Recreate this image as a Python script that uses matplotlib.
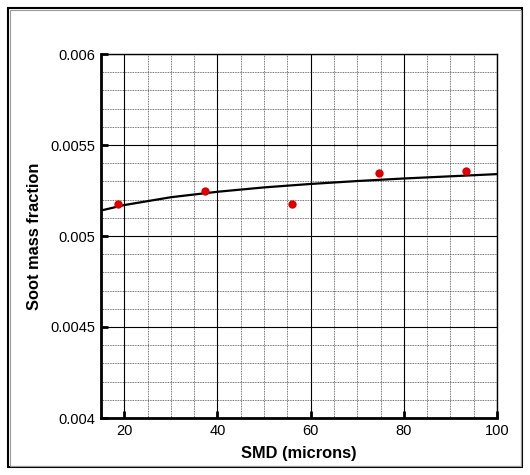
import matplotlib
matplotlib.use('Agg')
import matplotlib.pyplot as plt
from matplotlib.patches import Rectangle
from matplotlib.ticker import MultipleLocator, FuncFormatter

plt.rcParams['font.family'] = ['Liberation Sans', 'DejaVu Sans']

# measured points
smd = [18.7, 37.3, 55.9, 74.6, 93.4]
soot = [0.005178, 0.005247, 0.005178, 0.005347, 0.005358]

# fitted curve
fit_x = [15, 20, 30, 40, 50, 60, 70, 80, 90, 100]
fit_y = [0.005140, 0.005170, 0.005213, 0.005243, 0.005267, 0.005286,
         0.005302, 0.005316, 0.005328, 0.005340]

W, H = 530, 475
fig = plt.figure(figsize=(W/100, H/100), dpi=100)
ax = fig.add_axes([101/W, 1-418/H, (497-101)/W, (418-54)/H])

ax.plot(fit_x, fit_y, color='black', lw=1.6, zorder=3)
ax.plot(smd, soot, 'o', color='#dd0000', ms=6, mec='none', zorder=4)

ax.set_xlim(15, 100)
ax.set_ylim(0.004, 0.006)
ax.xaxis.set_major_locator(MultipleLocator(20))
ax.xaxis.set_minor_locator(MultipleLocator(5))
ax.yaxis.set_major_locator(MultipleLocator(0.0005))
ax.yaxis.set_minor_locator(MultipleLocator(0.0001))
ax.yaxis.set_major_formatter(FuncFormatter(lambda v, p: '%g' % round(v, 5)))

ax.grid(which='major', color='black', lw=0.8, ls='-')
ax.grid(which='minor', color='#444444', lw=0.6, ls=(0, (1, 1)))
ax.set_axisbelow(True)

ax.tick_params(which='major', direction='in', length=5, width=2, labelsize=10.5, pad=4)
ax.tick_params(which='minor', direction='in', length=0)
for s in ['left', 'bottom']:
    ax.spines[s].set_linewidth(2)
for s in ['top', 'right']:
    ax.spines[s].set_linewidth(1)

ax.set_xlabel('SMD (microns)', fontsize=11.8, fontweight='bold', labelpad=6)
ax.set_ylabel('Soot mass fraction', fontsize=11.8, fontweight='bold', labelpad=6)

# outer frame
fig.patches.append(Rectangle((8/W, 8/H), (522-8)/W, (467-8)/H, transform=fig.transFigure,
                             fill=False, ec='black', lw=1.5))
fig.patches.append(Rectangle((9.5/W, 9.5/H), (520.5-9.5)/W, (465.5-9.5)/H, transform=fig.transFigure,
                             fill=False, ec='#999999', lw=0.8))

fig.savefig('out.png', dpi=100)
